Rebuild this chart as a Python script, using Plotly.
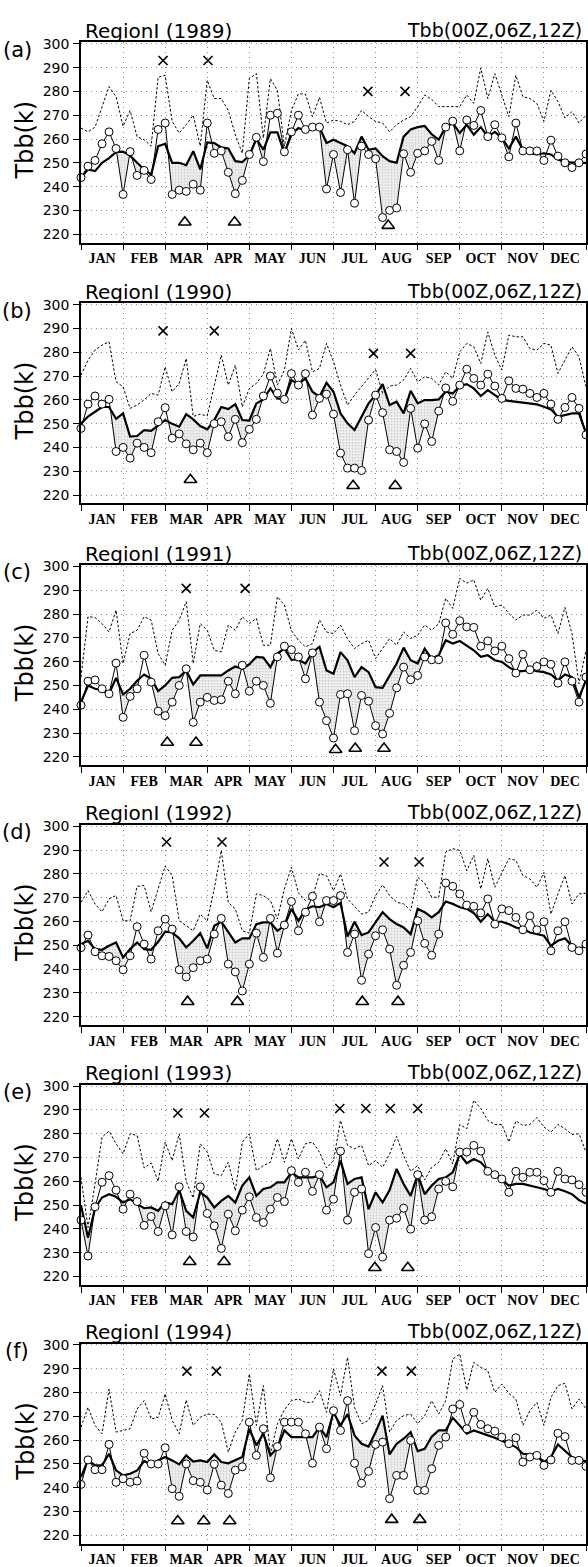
import plotly.graph_objects as go

# ---------------- data (pentad 1..73) ----------------
pentads = list(range(1, 74))
months = ["JAN", "FEB", "MAR", "APR", "MAY", "JUN", "JUL", "AUG", "SEP", "OCT", "NOV", "DEC"]
years = ["1989", "1990", "1991", "1992", "1993", "1994"]
panel_tags = ["(a)", "(b)", "(c)", "(d)", "(e)", "(f)"]
yticks = [220, 230, 240, 250, 260, 270, 280, 290, 300]

a_circ = [243.8, 248.6, 251, 258, 263, 256, 236.7, 254.7, 244.7, 246.8, 243, 264, 266.7, 236.7, 238.5, 238, 241, 238.5, 266.7, 254, 255, 246, 237, 242.6, 253.5, 260.7, 250.5, 270, 270.8, 254.6, 263, 270,
          264, 265, 265, 239, 253.5, 237.5, 255.5, 233, 257, 253.5, 251.7, 227, 230, 231, 253.8, 246, 254, 255, 259, 251, 265, 267.5, 255, 268, 265.7, 272, 261, 266, 260.5, 252.5, 266.7, 255, 255, 255, 251, 259.5, 252.8, 250, 248, 250, 253.7]
a_mean = [243.8, 247.2, 246.5, 250, 252, 254.5, 254.7, 253, 250, 247.2, 245, 257, 258, 250, 250, 249, 254.9, 247.2, 258.6, 258.3, 256.5, 256, 250.7, 250.3, 253, 260, 255.5, 262.8, 262.8, 254, 262, 264.6,
          263.5, 266, 265, 258.3, 259.7, 258.3, 257, 254, 261, 255.5, 256, 252.8, 250.7, 250, 261, 264, 265, 265.5, 262, 259.7, 265, 266.7, 262.5, 266, 261.8, 265, 261, 263, 260.5, 256, 261, 255.5, 254, 253.5, 254, 253.5, 251.4, 250.3, 250, 250, 250]
a_dot = [264.6, 263, 265, 273.6, 282, 277.8, 265.3, 272, 261, 259.7, 257, 286, 286.8, 267.4, 262.5, 266, 270, 257, 284.7, 277, 277, 272, 261.8, 254, 285.4, 287.5, 260.4, 285.4, 280.5, 257, 272, 279,
         278.9, 269.4, 277.5, 266.7, 268, 267.4, 266, 267.4, 272, 269.4, 267.4, 266.7, 263, 266, 268, 269.4, 273.6, 278.5, 276.7, 273.6, 273.6, 273.9, 273.6, 278.5, 275, 289.9, 277, 287.5, 278.5, 269.4, 286.8, 277.8, 277, 275, 267.4, 280.5, 275.7, 268.8, 271.5, 266.7, 270]

b_circ = [248, 258.2, 261.6, 258.2, 260.2, 238.3, 240, 235.5, 241.8, 240, 237.8, 250.8, 256.7, 243.9, 245.7, 241.5, 239, 241.8, 237.8, 250, 250.8, 244.5, 251.8, 242, 247.6, 251.8, 261.6, 270, 262.8, 260.2, 271, 266.2,
          271, 253.6, 260.6, 262.4, 254, 237.6, 231.3, 231.3, 230.3, 251.5, 262, 254.6, 239, 238.3, 233.7, 256.4, 239.7, 249.9, 242.5, 255.3, 265, 259.4, 266.2, 272.9, 269, 266.2, 270.8, 265.8, 260.6, 268, 264.8, 264.5, 262.7, 261, 262.7, 258.2, 251.8, 256.8, 261, 256.4, 245.3]
b_mean = [250, 253, 255, 257, 257, 252, 254.3, 244.6, 244.8, 247.3, 247, 249.4, 251.5, 249.9, 248.7, 254, 251.8, 249, 247.6, 251.5, 257, 256.1, 258.2, 251.5, 251.3, 258.5, 260.2, 264.8, 260.6, 260.2, 268.3, 266.6,
          269, 263.4, 261.3, 267.2, 263.4, 254.3, 250.1, 247.3, 252.9, 258.5, 262, 266.6, 257.8, 259.2, 254.3, 263.8, 258.5, 259.9, 259.9, 260.2, 263.4, 262.7, 265.8, 266.6, 264.8, 261.6, 264.1, 262, 260, 259.6, 259.2, 258.8, 258.5, 258.1, 257.1, 256, 252.9, 253.6, 254.3, 254.3, 246]
b_dot = [270.4, 276.7, 280.9, 283, 284.4, 267.6, 265.5, 256.4, 257.8, 260, 262.7, 262, 273.9, 263.4, 266.9, 277.4, 253, 254, 253.2, 265.5, 278.8, 266.2, 274.6, 257, 264.8, 266.9, 270.8, 281.6, 266.2, 272.5, 290, 281,
         285, 271.8, 273.2, 283.7, 276, 266.2, 257.8, 262, 265.5, 269, 272.8, 262.7, 265.8, 266.2, 268.3, 273.2, 267.6, 269.7, 269, 266.2, 271.8, 269, 280.2, 283.7, 282.3, 275.3, 288.5, 278.8, 272.5, 287.2, 286.5, 286.5, 281.6, 280.9, 283.7, 283, 271.1, 276.7, 282.3, 278.1, 265.5]

c_circ = [241.7, 251.8, 252.3, 248.6, 246.5, 259.4, 236.6, 245.4, 248.6, 262.7, 251.4, 239.2, 237.3, 243, 250, 257, 234.5, 243, 245, 243.7, 244, 251.8, 246.5, 258.5, 247.6, 251.8, 250, 242.5, 262, 266.5, 265, 262,
          252.8, 263.7, 243, 235.2, 227.9, 246.2, 246.5, 231, 245.8, 243.4, 233.1, 229.6, 238.3, 249, 257.7, 252.4, 254.2, 262, 260.8, 260.8, 276.3, 271.5, 277.2, 274.6, 274.4, 266.5, 268.7, 264.5, 266.5, 261.3, 255.2, 263.1, 256.6, 258, 259.9, 258.9, 251, 259.9, 251.8, 243, 253.5]
c_mean = [243, 250, 248.6, 248, 246.5, 253.2, 246.2, 248.6, 252, 254.6, 252.8, 247.6, 250, 253.2, 253.5, 256.3, 250.4, 254.2, 254.2, 254.2, 254.2, 256.3, 258, 257, 258.9, 262, 261.7, 257.7, 263.4, 265.5, 260.8, 260.8,
          259.2, 264, 266.2, 256.3, 254.9, 264, 260.6, 253.5, 257.7, 255.6, 249.3, 249, 253.8, 259.2, 265.9, 260.6, 259.2, 265.5, 261.3, 262.7, 269, 267.6, 268.7, 266.9, 264.8, 262, 262.7, 260.6, 259.9, 257.7, 256, 256, 256.6, 256, 255.6, 254.6, 252.1, 254.6, 253.5, 245, 252.1]
c_dot = [253.5, 278.9, 278.6, 276, 272.5, 281.7, 259.2, 271.8, 273.2, 278.9, 277.5, 263.4, 258.5, 273.2, 277.5, 285.2, 259.2, 276, 273.2, 264.8, 264.1, 275.4, 273.2, 278.9, 276, 278.2, 266.9, 266.9, 287.3, 283.8, 273, 269,
         266.2, 267.6, 277.5, 272.5, 271.8, 275.4, 269.7, 265.5, 267.6, 269, 261.3, 265.5, 269.7, 266.9, 272.5, 269.7, 271.1, 275.4, 273.2, 276, 286.6, 282.4, 295, 293, 294.4, 285.9, 290.8, 283.1, 283.8, 280.3, 277.5, 279.6, 279.6, 281.7, 278.2, 279.6, 271.8, 282.8, 271.8, 250.7, 264.8]

d_circ = [249, 254.3, 247.3, 245.6, 245.3, 243.5, 239.7, 245.6, 257.8, 250.5, 244.2, 256.1, 261, 256.8, 239.7, 236.7, 240.6, 243.5, 244.2, 254.7, 261.3, 242.1, 238.8, 230.8, 242.1, 255.1, 244.9, 261.3, 246.7, 258.5, 268.4, 256.1,
          263.9, 270.6, 259.9, 268.8, 268.8, 270.9, 247, 254.7, 235.3, 246.3, 254, 256.5, 248.4, 233.2, 241.6, 247, 260.3, 250.8, 245.8, 254.7, 276.2, 274.8, 271.6, 266.9, 266.4, 263.6, 269.5, 258.9, 265.3, 264.6, 261.7, 256.5, 262.4, 256.5, 259.9, 247.7, 256.1, 259.9, 249.1, 247.7, 250.5]
d_mean = [250.5, 251.9, 248.4, 248.1, 249.8, 251.2, 244.9, 248.4, 251.2, 248.4, 248.1, 251.5, 255.7, 255.4, 252.9, 249.1, 251.9, 255.1, 248.7, 258.2, 259.9, 255.4, 251.2, 252.9, 252.9, 258.9, 259.6, 259.6, 256.1, 258.2, 265.3, 260.3,
          265, 266.4, 266, 267.4, 266, 267.8, 253.7, 259.9, 254.3, 255.4, 259.6, 263.9, 261, 258.9, 257.5, 254.7, 265.3, 263.9, 261.7, 263.9, 268.4, 267.4, 266, 265.3, 263.6, 259.9, 263.1, 259.9, 259.9, 258.9, 257.5, 256.8, 255.4, 254.7, 254, 249.8, 251.9, 252.9, 249.8, 248.4, 249.8]
d_dot = [268, 273, 267.4, 264.1, 269.5, 270.9, 260.3, 260.3, 274.8, 275.1, 264.1, 273.7, 283.3, 279.3, 260.3, 258.2, 256.1, 263.1, 260.3, 273.7, 289.9, 268, 265.3, 256.1, 255.1, 271.6, 270.9, 268.8, 261, 273.7, 282.8, 272,
         268.8, 270.2, 280, 279.3, 273, 280, 269.5, 266.4, 263.1, 263.9, 270.9, 275.4, 270.9, 268.1, 267.4, 264.6, 278.6, 276.2, 270.2, 270.2, 289.2, 290.6, 289.9, 281.4, 287.8, 273.7, 286.4, 274.4, 280.7, 286.4, 285.7, 279.3, 277.9, 274.4, 280.6, 263.1, 271.6, 279.3, 267.4, 271.6, 271.9]

e_circ = [243.7, 228.6, 249.3, 259.6, 262.4, 256.3, 248.3, 254.6, 251.5, 241.5, 245.2, 238.9, 249.7, 237.5, 257.7, 238.9, 236.6, 257.7, 246.5, 241.3, 231.8, 246.2, 239.2, 247.9, 253.5, 244.8, 242.7, 248.3, 253.2, 251.5, 264.5, 259.6,
          263.8, 255.8, 262.8, 247.9, 252.5, 272.7, 243.7, 255.4, 256.8, 229.6, 240.6, 228.2, 243.7, 244.5, 248.7, 239.9, 262.8, 243.7, 245.1, 256.8, 260, 257.7, 272.3, 272.3, 275.1, 272.7, 264.2, 262.8, 261, 255.4, 264.2, 261.7, 263.8, 263.8, 260.3, 255.4, 264.2, 261, 260.6, 258.6, 255.4]
e_mean = [250, 236.3, 248.7, 253.2, 254.6, 253.5, 251.1, 252.5, 250.4, 248.7, 249, 247.6, 251.1, 250.4, 256.3, 247.6, 244.8, 255.4, 253.2, 249, 251.8, 253.9, 251.1, 258.2, 261.7, 253.9, 256.8, 257.5, 259.6, 259.6, 263.8, 261.7,
          261.7, 261.7, 262.4, 257.5, 259.6, 268.7, 258.9, 261, 261.7, 248.3, 255.4, 251.1, 256.3, 265.2, 258.9, 253.9, 262.8, 254.6, 258.2, 261, 261.7, 263.8, 271.3, 267.6, 269.4, 268, 264.8, 262.8, 260.6, 258.2, 258.9, 258.9, 258.2, 257.7, 256.8, 255.8, 256.8, 255.8, 254.6, 252.1, 250.7]
e_dot = [261.7, 240.6, 258.9, 278.6, 281.1, 275.8, 271.5, 280, 279.3, 265.6, 267.7, 260, 276.5, 268.7, 280, 260, 253, 275.8, 272.3, 263.1, 262.4, 268, 256, 276.5, 280, 264.5, 266.6, 268, 277.9, 268, 277.9, 269.4,
         275.8, 276.5, 272.3, 265.6, 268.7, 285.6, 275.1, 273.7, 275.1, 266.6, 268.7, 265.9, 271.5, 278.9, 270.8, 264.2, 266.6, 260.6, 265.9, 268, 273.7, 267.3, 283.9, 282.1, 294.1, 290.6, 285.6, 283.9, 283.9, 276.5, 285.4, 283.5, 283.9, 286.8, 282.8, 280.7, 283.9, 282.1, 279.7, 280, 272.3]

f_circ = [241.4, 251.7, 247.6, 247.6, 258.2, 242.3, 243.8, 242.3, 242.8, 254.5, 250, 250, 256.8, 239.6, 236.4, 250, 243, 242.3, 239.1, 249.9, 241.1, 237.6, 247.4, 248.8, 267.6, 253.6, 264.8, 244.2, 257.3, 267.6, 267.6, 267.6,
          262.7, 250.3, 265.5, 256.4, 272.4, 264.1, 276.6, 250.3, 241.9, 246.9, 258.2, 259.2, 235.4, 245.2, 245.2, 259.9, 238.9, 238.9, 248, 257.8, 261.3, 273.1, 275, 264.8, 271.7, 266.6, 264.8, 263.8, 261.3, 258.5, 261, 250.8, 252.9, 253.6, 249.4, 251.7, 262.9, 261.5, 251.5, 251.5, 249]
f_mean = [244.5, 251.7, 249.4, 249.4, 254.3, 247.3, 245.2, 245.9, 247.3, 251.2, 250.1, 251.5, 252.9, 251.5, 249.8, 253.6, 251, 251.5, 250.8, 254, 250.8, 250.3, 251.5, 252.9, 264.8, 257.8, 262.7, 253.6, 256.8, 264.1, 261.3, 261.3,
          261.3, 261.3, 265.5, 261.3, 271.7, 266.2, 271, 262, 258.5, 257.3, 263.4, 270.3, 254, 258.5, 260.6, 263.4, 255.4, 256.4, 261.5, 264.1, 264.1, 269.4, 266.2, 262.7, 264.1, 262.9, 262, 261, 259.9, 258.5, 257.1, 254.3, 254, 253.6, 250.8, 252.9, 258.2, 255.7, 252.9, 251.7, 251.2]
f_dot = [265.5, 273.8, 266.2, 262.7, 281.5, 263.4, 264.1, 264.8, 273.1, 276.6, 268.9, 269.6, 279.4, 268.3, 262.7, 276.9, 266.2, 269.6, 271, 270.8, 267.6, 255, 263.4, 268.3, 287.8, 266.2, 282.9, 254.3, 266.9, 272.7, 276.6, 277.3,
         275.9, 275.9, 280.8, 271.7, 290, 278.7, 294.8, 273.8, 266.9, 268.3, 275.2, 282.9, 263.4, 268.3, 270.3, 271, 266.9, 270.3, 276.6, 271, 276.6, 294.1, 296.2, 281.1, 292.7, 290.6, 289.2, 280.1, 283.6, 279.7, 277.3, 266.2, 272.4, 275.9, 266.2, 278, 282.9, 283.9, 273.1, 277.3, 273.1]

# markers: x (pentad position) and y
a_cross_x = [12.7, 19.1, 41.9, 47.2]; a_cross_y = [293, 293, 280, 280]
a_tri_x = [15.8, 22.9, 44.8]; a_tri_y = [225, 225, 223.6]
b_cross_x = [12.7, 20.0, 42.7, 48.0]; b_cross_y = [289, 289, 279.5, 279.5]
b_tri_x = [16.6, 39.8, 45.8]; b_tri_y = [226.4, 223.9, 223.9]
c_cross_x = [16.0, 24.4]; c_cross_y = [290.8, 290.8]
c_tri_x = [13.3, 17.4, 37.3, 40.1, 44.2]; c_tri_y = [226, 226, 223, 223.5, 223.5]
d_cross_x = [13.2, 21.1, 44.2, 49.2]; d_cross_y = [293.4, 293.4, 285, 285]
d_tri_x = [16.2, 23.3, 41.1, 46.2]; d_tri_y = [226.3, 226.3, 226.3, 226.3]
e_cross_x = [14.8, 18.6, 37.9, 41.6, 45.1, 49.0]; e_cross_y = [288.7, 288.7, 290.6, 290.6, 290.6, 290.6]
e_tri_x = [16.5, 21.4, 42.9, 47.6]; e_tri_y = [226.2, 226.2, 223.7, 223.7]
f_cross_x = [16.1, 20.3, 43.9, 48.1]; f_cross_y = [289, 289, 289, 289]
f_tri_x = [14.8, 18.5, 22.2, 45.3, 49.3]; f_tri_y = [226, 226, 226, 226.6, 226.6]

panels = [
    (a_circ, a_mean, a_dot, a_cross_x, a_cross_y, a_tri_x, a_tri_y),
    (b_circ, b_mean, b_dot, b_cross_x, b_cross_y, b_tri_x, b_tri_y),
    (c_circ, c_mean, c_dot, c_cross_x, c_cross_y, c_tri_x, c_tri_y),
    (d_circ, d_mean, d_dot, d_cross_x, d_cross_y, d_tri_x, d_tri_y),
    (e_circ, e_mean, e_dot, e_cross_x, e_cross_y, e_tri_x, e_tri_y),
    (f_circ, f_mean, f_dot, f_cross_x, f_cross_y, f_tri_x, f_tri_y),
]

# ---------------- layout geometry ----------------
W, H = 588, 1567
ML, MR = 81, 0
y300_px = [37, 299, 562, 823, 1084, 1344]
PXK = 2.39
YMIN, YMAX = 216.5, 300.6
FONT = "DejaVu Sans"
GRID = dict(gridcolor="#8c8c8c", griddash="1px,4px", gridwidth=1)


def px_x(px):
    return (px - ML) / (W - ML - MR)


def px_y(py):
    return 1 - py / H


def fill_edges(circ, mean):
    xs, hi, lo = [], [], []
    for i in range(len(circ)):
        x = pentads[i]
        if i > 0:
            d0 = circ[i - 1] - mean[i - 1]
            d1 = circ[i] - mean[i]
            if d0 * d1 < 0:
                t = d0 / (d0 - d1)
                xc = pentads[i - 1] + t
                yc = mean[i - 1] + t * (mean[i] - mean[i - 1])
                xs.append(xc); hi.append(yc); lo.append(yc)
        xs.append(x); hi.append(mean[i]); lo.append(min(circ[i], mean[i]))
    return xs, hi, lo


fig = go.Figure()
annotations = []
for k, (circ, mean, dot, cx, cy, tx, ty) in enumerate(panels):
    sfx = "" if k == 0 else str(k + 1)
    xa, ya = "x" + sfx, "y" + sfx
    xs, hi, lo = fill_edges(circ, mean)
    fig.add_trace(go.Scatter(x=xs, y=hi, mode="lines", line=dict(width=0, color="rgba(0,0,0,0)"),
                             xaxis=xa, yaxis=ya, showlegend=False, hoverinfo="skip"))
    fig.add_trace(go.Scatter(x=xs, y=lo, mode="lines", line=dict(width=0, color="rgba(0,0,0,0)"),
                             fill="tonexty", fillcolor="#e8e8e8",
                             fillpattern=dict(shape=".", fgcolor="#a0a0a0", bgcolor="#efefef", size=3, solidity=0.25),
                             xaxis=xa, yaxis=ya, showlegend=False, hoverinfo="skip"))
    fig.add_trace(go.Scatter(x=pentads, y=dot, mode="lines", line=dict(color="black", width=1, dash="2.5px,2px"),
                             xaxis=xa, yaxis=ya, showlegend=False, cliponaxis=False))
    fig.add_trace(go.Scatter(x=pentads, y=mean, mode="lines", line=dict(color="black", width=2.2),
                             xaxis=xa, yaxis=ya, showlegend=False, cliponaxis=False))
    fig.add_trace(go.Scatter(x=pentads, y=circ, mode="lines+markers", line=dict(color="black", width=1),
                             marker=dict(symbol="circle", size=8, color="white", line=dict(color="black", width=1)),
                             xaxis=xa, yaxis=ya, showlegend=False, cliponaxis=False))
    fig.add_trace(go.Scatter(x=cx, y=cy, mode="markers",
                             marker=dict(symbol="x-thin", size=9, line=dict(color="black", width=1.6)),
                             xaxis=xa, yaxis=ya, showlegend=False, cliponaxis=False))
    fig.add_trace(go.Scatter(x=tx, y=ty, mode="markers",
                             marker=dict(symbol="triangle-up-open", size=11, color="black", line=dict(color="black", width=1.6)),
                             xaxis=xa, yaxis=ya, showlegend=False, cliponaxis=False))

    top = y300_px[k] - (YMAX - 300) * PXK
    bot = y300_px[k] + (300 - YMIN) * PXK
    dom = [px_y(bot), px_y(top)]
    fig.layout["xaxis" + sfx] = dict(
        domain=[0, 1], anchor=ya, range=[1, 73],
        tickvals=[4 + 6 * i for i in range(12)], ticktext=months, ticks="",
        tickfont=dict(family="Liberation Serif", size=14, color="black", weight="bold"),
        showgrid=False, zeroline=False,
        showline=True, linecolor="black", linewidth=1.5, mirror=True,
        minor=dict(tickvals=[1 + 6 * i for i in range(13)], ticks="outside", ticklen=6,
                   tickcolor="black", tickwidth=1.3, showgrid=True, **GRID),
        ticklabelstandoff=2,
    )
    fig.layout["yaxis" + sfx] = dict(
        domain=dom, anchor=xa, range=[YMIN, YMAX],
        tickvals=yticks, ticktext=[str(v) for v in yticks], ticks="outside", ticklen=6,
        tickcolor="black", tickwidth=1.3,
        tickfont=dict(family=FONT, size=14, color="black"),
        showgrid=True, **GRID,
        zeroline=False, showline=True, linecolor="black", linewidth=1.5, mirror=True,
        ticklabelstandoff=1,
    )
    y0 = y300_px[k]
    annotations += [
        dict(text="RegionI (" + years[k] + ")", x=px_x(83), y=px_y(y0 - 13), xref="paper", yref="paper",
             xanchor="left", yanchor="middle", showarrow=False, font=dict(family=FONT, size=20, color="black")),
        dict(text="Tbb(00Z,06Z,12Z)", x=px_x(586), y=px_y(y0 - 14), xref="paper", yref="paper",
             xanchor="right", yanchor="middle", showarrow=False, font=dict(family=FONT, size=19, color="black")),
        dict(text=panel_tags[k], x=px_x(17), y=px_y(y0 + 6), xref="paper", yref="paper",
             xanchor="center", yanchor="middle", showarrow=False, font=dict(family=FONT, size=21, color="black")),
        dict(text="Tbb(k)", x=px_x(25), y=px_y(y0 + 97), xref="paper", yref="paper", textangle=-90,
             xanchor="center", yanchor="middle", showarrow=False, font=dict(family=FONT, size=24, color="black")),
    ]

fig.update_layout(width=W, height=H, margin=dict(l=ML, r=MR, t=0, b=0, pad=0),
                  paper_bgcolor="white", plot_bgcolor="white", annotations=annotations)
fig.write_html("out.html", config={"displayModeBar": False},
               post_script="document.body.style.margin='0';document.body.style.overflow='hidden';")
